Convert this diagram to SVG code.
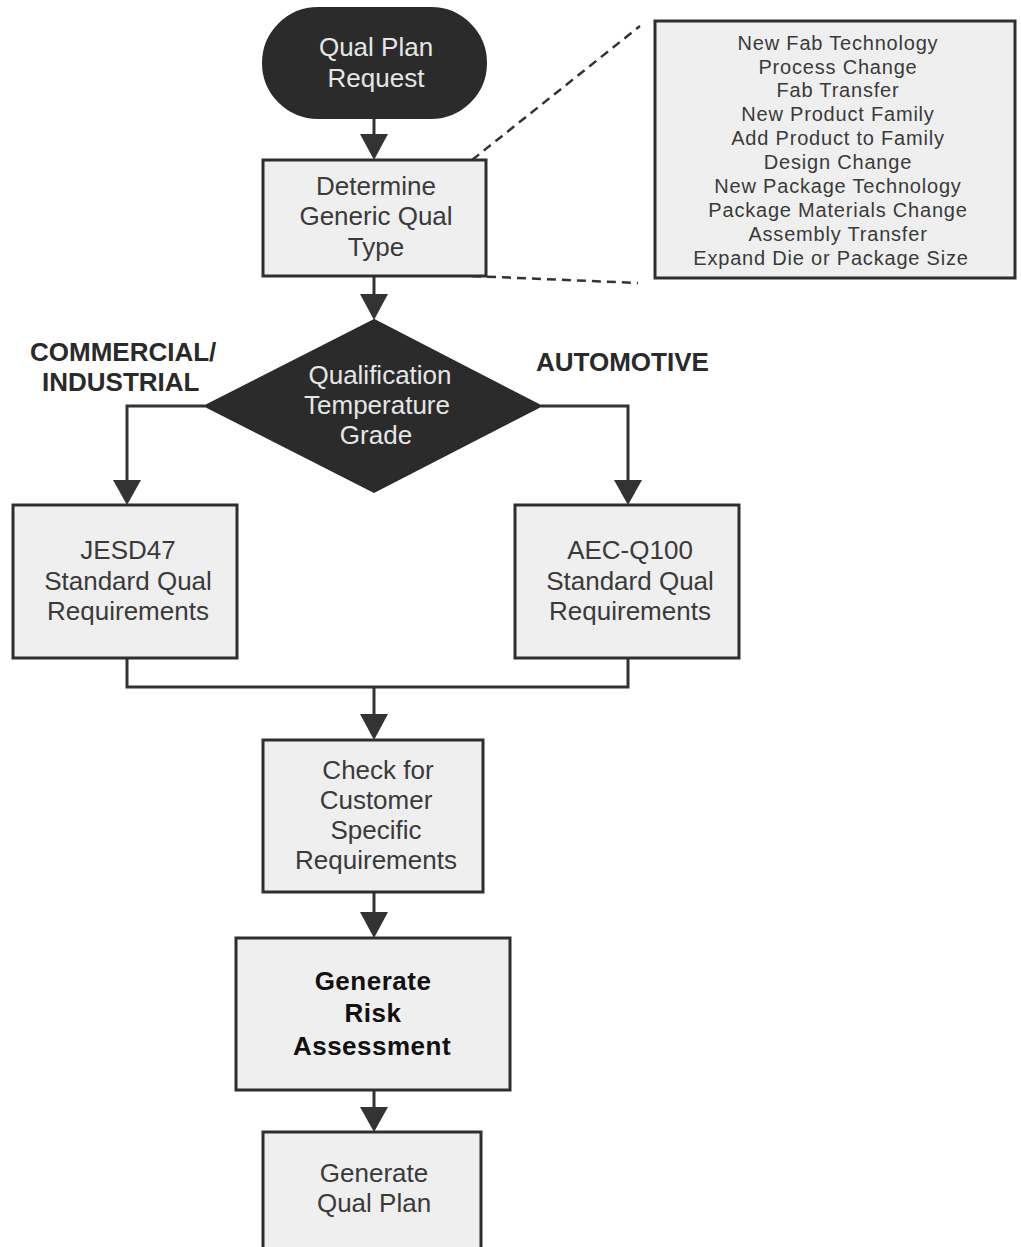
<svg xmlns="http://www.w3.org/2000/svg" width="1021" height="1247" viewBox="0 0 1021 1247">
<defs>
<style>
.box{fill:#efefef;stroke:#2e2e2e;stroke-width:3}
.dark{fill:#2b2b2b;stroke:#2b2b2b;stroke-width:2}
.t{font-family:"Liberation Sans",Arial,sans-serif;font-size:26px;fill:#3a3a3a;text-anchor:middle}
.tw{font-family:"Liberation Sans",Arial,sans-serif;font-size:26px;fill:#e6e6e6;text-anchor:middle}
.ts{font-family:"Liberation Sans",Arial,sans-serif;font-size:20px;fill:#3a3a3a;text-anchor:middle;letter-spacing:0.8px}
.tb{font-family:"Liberation Sans",Arial,sans-serif;font-size:26px;font-weight:bold;fill:#111;text-anchor:middle;letter-spacing:0.5px}
.lbl{font-family:"Liberation Sans",Arial,sans-serif;font-size:26px;font-weight:bold;fill:#2a2a2a}
.ln{fill:none;stroke:#333;stroke-width:3}
.dash{fill:none;stroke:#333;stroke-width:2.5;stroke-dasharray:9 6}
</style>
</defs>
<rect width="1021" height="1247" fill="#ffffff"/>

<g id="connectors">
<line class="dash" x1="472" y1="160" x2="640" y2="26"/>
<line class="dash" x1="472" y1="276" x2="638" y2="283"/>
<line class="ln" x1="374" y1="118" x2="374" y2="140"/>
<path d="M360,134 L388,134 L374,160 z" fill="#333"/>
<line class="ln" x1="374" y1="276" x2="374" y2="298"/>
<path d="M360,294 L388,294 L374,320 z" fill="#333"/>
<polyline class="ln" points="205,406 127,406 127,485"/>
<path d="M113,480 L141,480 L127,505 z" fill="#333"/>
<polyline class="ln" points="541,406 628,406 628,485"/>
<path d="M614,480 L642,480 L628,505 z" fill="#333"/>
<polyline class="ln" points="127,658 127,687 628,687 628,658"/>
<line class="ln" x1="374" y1="687" x2="374" y2="720"/>
<path d="M360,714 L388,714 L374,740 z" fill="#333"/>
<line class="ln" x1="374" y1="892" x2="374" y2="916"/>
<path d="M360,912 L388,912 L374,938 z" fill="#333"/>
<line class="ln" x1="374" y1="1090" x2="374" y2="1112"/>
<path d="M360,1107 L388,1107 L374,1132 z" fill="#333"/>
</g>

<g id="start">
<rect class="dark" x="263" y="8" width="223" height="110" rx="55" ry="55"/>
<text class="tw" x="376" y="56">Qual Plan</text>
<text class="tw" x="376" y="87">Request</text>
</g>

<g id="determine">
<rect class="box" x="263" y="160" width="223" height="116"/>
<text class="t" x="376" y="195">Determine</text>
<text class="t" x="376" y="225">Generic Qual</text>
<text class="t" x="376" y="256">Type</text>
</g>

<g id="qual-types">
<rect class="box" x="655" y="21" width="360" height="257"/>
<text class="ts" x="838" y="50">New Fab Technology</text>
<text class="ts" x="838" y="74">Process Change</text>
<text class="ts" x="838" y="97">Fab Transfer</text>
<text class="ts" x="838" y="121">New Product Family</text>
<text class="ts" x="838" y="145">Add Product to Family</text>
<text class="ts" x="838" y="169">Design Change</text>
<text class="ts" x="838" y="193">New Package Technology</text>
<text class="ts" x="838" y="217">Package Materials Change</text>
<text class="ts" x="838" y="241">Assembly Transfer</text>
<text class="ts" x="831" y="265">Expand Die or Package Size</text>
</g>

<g id="grade">
<polygon class="dark" points="374,320 541,406 374,492 205,406"/>
<text class="tw" x="380" y="384">Qualification</text>
<text class="tw" x="377" y="414">Temperature</text>
<text class="tw" x="376" y="444">Grade</text>
</g>

<g id="labels">
<text class="lbl" x="30" y="361">COMMERCIAL/</text>
<text class="lbl" x="42" y="391">INDUSTRIAL</text>
<text class="lbl" x="536" y="371">AUTOMOTIVE</text>
</g>

<g id="jesd47">
<rect class="box" x="13" y="505" width="224" height="153"/>
<text class="t" x="128" y="559">JESD47</text>
<text class="t" x="128" y="590">Standard Qual</text>
<text class="t" x="128" y="620">Requirements</text>
</g>

<g id="aec">
<rect class="box" x="515" y="505" width="224" height="153"/>
<text class="t" x="630" y="559">AEC-Q100</text>
<text class="t" x="630" y="590">Standard Qual</text>
<text class="t" x="630" y="620">Requirements</text>
</g>

<g id="check">
<rect class="box" x="263" y="740" width="220" height="152"/>
<text class="t" x="378" y="779">Check for</text>
<text class="t" x="376" y="809">Customer</text>
<text class="t" x="376" y="839">Specific</text>
<text class="t" x="376" y="869">Requirements</text>
</g>

<g id="risk">
<rect class="box" x="236" y="938" width="274" height="152"/>
<text class="tb" x="373" y="990">Generate</text>
<text class="tb" x="373" y="1022">Risk</text>
<text class="tb" x="372" y="1055">Assessment</text>
</g>

<g id="plan">
<rect class="box" x="263" y="1132" width="218" height="125"/>
<text class="t" x="374" y="1182">Generate</text>
<text class="t" x="374" y="1212">Qual Plan</text>
</g>
</svg>
